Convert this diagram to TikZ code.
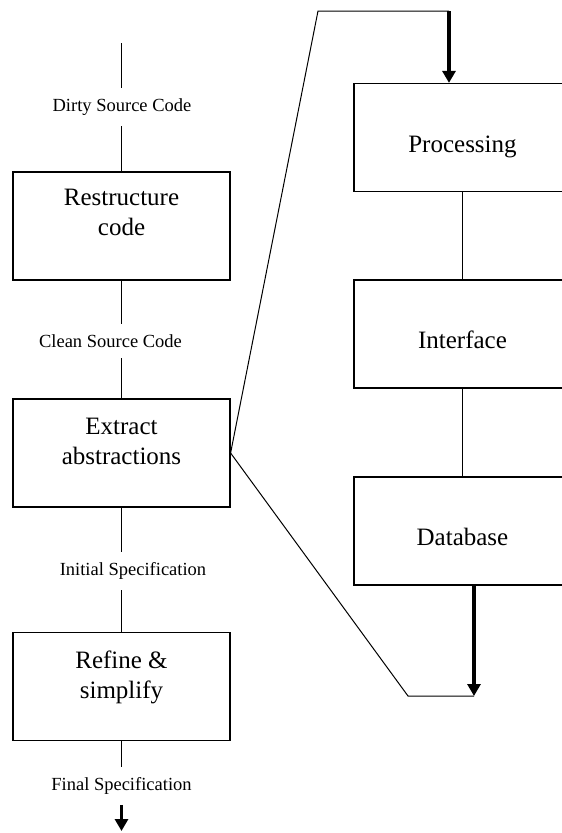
\documentclass[tikz,border=0pt]{standalone}
\usepackage{fontspec}
\setmainfont{Liberation Serif}
\usetikzlibrary{arrows.meta,positioning}
\tikzstyle{box} = [draw,line width=1.2pt,minimum width=217pt,minimum height=108pt,inner sep=0pt,font=\fontsize{25}{30}\selectfont]
\tikzstyle{boxtext} = [align=center,inner sep=0pt,font=\fontsize{25}{30}\selectfont]
\tikzstyle{lowtext} = [text height=29pt,text depth=0pt]
\tikzstyle{flowlabel} = [inner xsep=2pt,inner ysep=10pt,font=\fontsize{18.5}{22}\selectfont]
\tikzstyle{thickarrow} = [line width=3.5pt,-{Triangle[width=13pt,length=12pt]}]
\tikzset{>=latex}
\begin{document}
\begin{tikzpicture}[x=1pt,y=-1pt,line width=1pt]
    \useasboundingbox (0,0) rectangle (562,833);
    % left column
    \node [box] (restr) at (121.5,226) {};
    \node [box] (extr) at (121.5,453) {};
    \node [box] (refine) at (121.5,686.5) {};
    \node [boxtext,anchor=north] (restrtxt) at ([yshift=-17pt]restr.north) {Restructure\\code};
    \node [boxtext,anchor=north] (extrtxt) at ([yshift=-19pt]extr.north) {Extract\\abstractions};
    \node [boxtext,anchor=north] (refinetxt) at ([yshift=-18pt]refine.north) {Refine \&\\simplify};
    \node [flowlabel] (dirty) at (122,107) {Dirty Source Code};
    \node [flowlabel] (clean) at (110.5,341) {Clean Source Code};
    \node [flowlabel] (initial) at (133,571) {Initial Specification};
    \node [flowlabel] (final) at (121.5,786) {Final Specification};
    \coordinate (start) at (121.5,43);
    \coordinate (finish) at (121.5,831);
    \draw (start) -- (start |- dirty.north);
    \draw (restr.north) -- (restr.north |- dirty.south);
    \draw (restr.south) -- (restr.south |- clean.north);
    \draw (extr.north) -- (extr.north |- clean.south);
    \draw (extr.south) -- (extr.south |- initial.north);
    \draw (refine.north) -- (refine.north |- initial.south);
    \draw (refine.south) -- (refine.south |- final.north);
    \draw [thickarrow] (finish |- final.south) -- (finish);
    % right column
    \node [box,lowtext] (proc) at (462.5,137.5) {Processing};
    \node [box,lowtext] (iface) at (462.5,334) {Interface};
    \node [box,lowtext] (db) at (462.5,531) {Database};
    \draw (proc) -- (iface);
    \draw (iface) -- (db);
    % zoom lines
    \coordinate (zoomtop) at (318,11);
    \coordinate (zoombot) at (408,696);
    \coordinate (procin) at (449,11);
    \coordinate (dbout) at (474,696);
    \draw (extr.east) -- (zoomtop) -- (procin);
    \draw [thickarrow] (procin) -- (procin |- proc.north);
    \draw (extr.east) -- (zoombot) -- (dbout);
    \draw [thickarrow] (dbout |- db.south) -- (dbout);
\end{tikzpicture}
\end{document}
